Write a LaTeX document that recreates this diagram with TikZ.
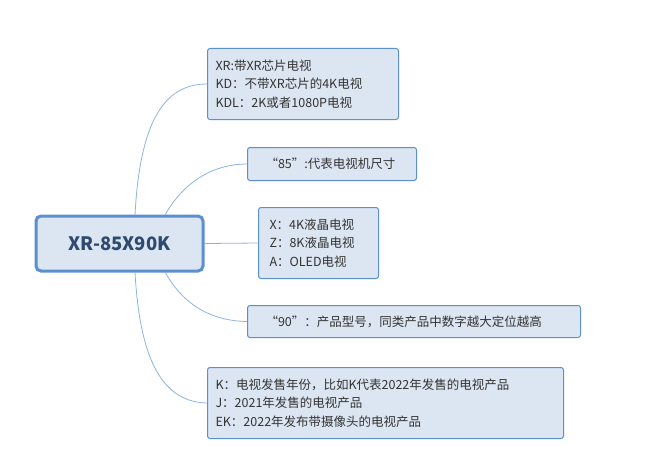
\documentclass[tikz,border=0pt]{standalone}
\usepackage{fontspec}
\setmainfont{Noto Sans CJK SC}
\definecolor{fillb}{HTML}{DCE6F2}
\definecolor{edgeb}{HTML}{5B8FD0}
\definecolor{lineb}{HTML}{8DB3E2}
\definecolor{txt}{HTML}{333333}
\definecolor{ctxt}{HTML}{2E4A6E}
\begin{document}
\begin{tikzpicture}[x=1pt,y=-1pt,
  leaf/.style={draw=edgeb,fill=fillb,rounded corners=2.5pt,line width=1pt,anchor=north west,inner sep=0pt,text=txt,font=\fontsize{12.5}{18.5}\selectfont,align=left},
  conn/.style={draw=lineb,line width=0.8pt}]
\useasboundingbox (0,0) rectangle (650,452);
\node[draw=edgeb,fill=fillb,rounded corners=5pt,line width=3pt,minimum width=167pt,minimum height=55pt,text=ctxt,font=\bfseries\fontsize{18.5}{22}\selectfont] (c) at (119.5,243.5) {XR-85X90K};
\node[leaf,minimum width=191pt,minimum height=71pt,text width=191pt] (b1) at (207,48) {\hspace*{8pt}XR:带XR芯片电视\\\hspace*{8pt}KD：不带XR芯片的4K电视\\\hspace*{8pt}KDL：2K或者1080P电视};
\node[leaf,minimum width=169pt,minimum height=33pt,text width=169pt] (b2) at (247,147) {\hspace*{18pt}“85”:代表电视机尺寸};
\node[leaf,minimum width=120pt,minimum height=71pt,text width=120pt] (b3) at (258,207) {\hspace*{11pt}X：4K液晶电视\\\hspace*{11pt}Z：8K液晶电视\\\hspace*{11pt}A：OLED电视};
\node[leaf,minimum width=333pt,minimum height=32pt,text width=333pt] (b4) at (247,305) {\hspace*{18pt}“90”：产品型号，同类产品中数字越大定位越高};
\node[leaf,minimum width=356pt,minimum height=71pt,text width=356pt] (b5) at (207,367) {\hspace*{8pt}K：电视发售年份，比如K代表2022年发售的电视产品\\\hspace*{8pt}J：2021年发售的电视产品\\\hspace*{8pt}EK：2022年发布带摄像头的电视产品};
\coordinate (t1) at (135,215); \coordinate (t2) at (165,215);
\coordinate (d1) at (135,272); \coordinate (d2) at (165,272);
\draw[conn] (t1) .. controls (140,120) and (165,84) .. (b1.west);
\draw[conn] (t2) .. controls (185,180) and (215,164) .. (b2.west);
\draw[conn] (c.east) -- (b3.west);
\draw[conn] (d2) .. controls (185,308) and (215,321) .. (b4.west);
\draw[conn] (d1) .. controls (140,365) and (165,402) .. (b5.west);
\end{tikzpicture}
\end{document}
